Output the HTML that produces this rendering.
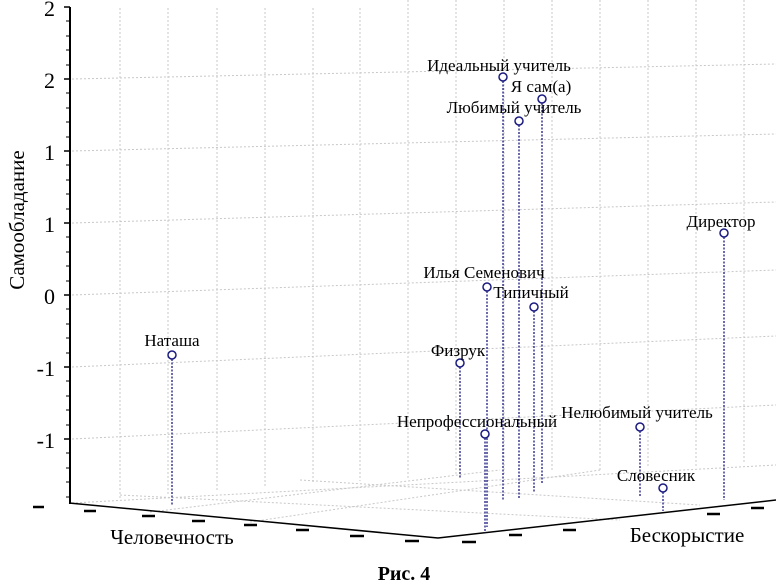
<!DOCTYPE html>
<html><head><meta charset="utf-8"><style>
html,body{margin:0;padding:0;background:#fff;}
svg{display:block;}
text{font-family:"Liberation Serif",serif;}
</style></head><body>
<svg width="776" height="586" viewBox="0 0 776 586" xmlns="http://www.w3.org/2000/svg">
<g stroke="#c8c8c8" stroke-width="1" stroke-dasharray="2,2" fill="none">
<line x1="72" y1="79" x2="776" y2="64"/>
<line x1="72" y1="151" x2="776" y2="134"/>
<line x1="72" y1="223" x2="776" y2="202"/>
<line x1="72" y1="295" x2="776" y2="270"/>
<line x1="72" y1="367" x2="776" y2="336"/>
<line x1="72" y1="439" x2="776" y2="405"/>
<line x1="120" y1="8" x2="120" y2="498"/>
<line x1="168" y1="8" x2="168" y2="494"/>
<line x1="217" y1="8" x2="217" y2="490"/>
<line x1="265" y1="8" x2="265" y2="487"/>
<line x1="313" y1="8" x2="313" y2="484"/>
<line x1="360" y1="8" x2="360" y2="481"/>
<line x1="408" y1="0" x2="408" y2="478"/>
<line x1="456" y1="0" x2="456" y2="476"/>
<line x1="504" y1="0" x2="504" y2="474"/>
<line x1="552" y1="0" x2="552" y2="472"/>
<line x1="600" y1="0" x2="600" y2="470"/>
<line x1="648" y1="0" x2="648" y2="468"/>
<line x1="696" y1="0" x2="696" y2="466"/>
<line x1="744" y1="0" x2="744" y2="464"/>
<line x1="72" y1="503" x2="776" y2="465"/>
<line x1="150" y1="512" x2="500" y2="470"/>
<line x1="250" y1="522" x2="600" y2="470"/>
<line x1="120" y1="495" x2="620" y2="520"/>
<line x1="300" y1="480" x2="700" y2="505"/>
</g>
<line x1="70" y1="7" x2="70" y2="504" stroke="#000" stroke-width="2"/>
<g stroke="#000" stroke-width="1.5">
<line x1="64" y1="7" x2="70" y2="7"/><line x1="64" y1="79" x2="70" y2="79"/><line x1="64" y1="151" x2="70" y2="151"/><line x1="64" y1="223" x2="70" y2="223"/><line x1="64" y1="295" x2="70" y2="295"/><line x1="64" y1="367" x2="70" y2="367"/><line x1="64" y1="439" x2="70" y2="439"/>
</g>
<g stroke="#000" stroke-width="1">
<line x1="66" y1="21" x2="70" y2="21"/><line x1="66" y1="36" x2="70" y2="36"/><line x1="66" y1="50" x2="70" y2="50"/><line x1="66" y1="65" x2="70" y2="65"/>
<line x1="66" y1="93" x2="70" y2="93"/><line x1="66" y1="108" x2="70" y2="108"/><line x1="66" y1="122" x2="70" y2="122"/><line x1="66" y1="137" x2="70" y2="137"/>
<line x1="66" y1="165" x2="70" y2="165"/><line x1="66" y1="180" x2="70" y2="180"/><line x1="66" y1="194" x2="70" y2="194"/><line x1="66" y1="209" x2="70" y2="209"/>
<line x1="66" y1="237" x2="70" y2="237"/><line x1="66" y1="252" x2="70" y2="252"/><line x1="66" y1="266" x2="70" y2="266"/><line x1="66" y1="281" x2="70" y2="281"/>
<line x1="66" y1="309" x2="70" y2="309"/><line x1="66" y1="324" x2="70" y2="324"/><line x1="66" y1="338" x2="70" y2="338"/><line x1="66" y1="353" x2="70" y2="353"/>
<line x1="66" y1="381" x2="70" y2="381"/><line x1="66" y1="396" x2="70" y2="396"/><line x1="66" y1="410" x2="70" y2="410"/><line x1="66" y1="425" x2="70" y2="425"/>
<line x1="66" y1="453" x2="70" y2="453"/><line x1="66" y1="468" x2="70" y2="468"/><line x1="66" y1="482" x2="70" y2="482"/><line x1="66" y1="497" x2="70" y2="497"/>
</g>
<g font-family="Liberation Sans,sans-serif" font-size="22" text-anchor="end" fill="#000">
<text x="55" y="16">2</text><text x="55" y="88">2</text><text x="55" y="160">1</text><text x="55" y="232">1</text><text x="55" y="304">0</text><text x="55" y="376">-1</text><text x="55" y="448">-1</text>
</g>
<polyline points="69,503 438,538 776,500" fill="none" stroke="#000" stroke-width="1.5"/>
<g stroke="#000" stroke-width="2.5">
<line x1="33" y1="507" x2="44" y2="507"/><line x1="84" y1="511" x2="96" y2="511"/><line x1="142" y1="516" x2="155" y2="516"/><line x1="192" y1="521" x2="205" y2="521"/><line x1="244" y1="525" x2="257" y2="525"/><line x1="296" y1="530" x2="309" y2="530"/><line x1="350" y1="536" x2="364" y2="536"/><line x1="405" y1="541" x2="419" y2="541"/><line x1="462" y1="542" x2="476" y2="542"/><line x1="509" y1="535" x2="522" y2="535"/><line x1="563" y1="530" x2="576" y2="530"/><line x1="707" y1="514" x2="720" y2="514"/><line x1="751" y1="508" x2="764" y2="508"/>
</g>
<text x="24" y="220" font-size="21" text-anchor="middle" transform="rotate(-90 24 220)">Самообладание</text>
<text x="172" y="544" font-size="21" text-anchor="middle">Человечность</text>
<text x="687" y="542" font-size="21" text-anchor="middle">Бескорыстие</text>
<text x="404" y="580" font-size="20" font-weight="bold" text-anchor="middle">Рис. 4</text>
<g stroke="#1a1a80" stroke-width="1.3" stroke-dasharray="2,1.5">
<line x1="172" y1="359" x2="172" y2="505"/>
<line x1="503" y1="81" x2="503" y2="500"/>
<line x1="542" y1="103" x2="542" y2="484"/>
<line x1="519" y1="125" x2="519" y2="498"/>
<line x1="724" y1="237" x2="724" y2="500"/>
<line x1="487" y1="291" x2="487" y2="527"/>
<line x1="534" y1="311" x2="534" y2="492"/>
<line x1="460" y1="367" x2="460" y2="478"/>
<line x1="485" y1="438" x2="485" y2="533"/>
<line x1="640" y1="431" x2="640" y2="497"/>
<line x1="663" y1="492" x2="663" y2="511"/>
</g>
<g fill="#fff" stroke="#1a1a80" stroke-width="1.5">
<circle cx="172" cy="355" r="4"/><circle cx="503" cy="77" r="4"/><circle cx="542" cy="99" r="4"/><circle cx="519" cy="121" r="4"/><circle cx="724" cy="233" r="4"/><circle cx="487" cy="287" r="4"/><circle cx="534" cy="307" r="4"/><circle cx="460" cy="363" r="4"/><circle cx="485" cy="434" r="4"/><circle cx="640" cy="427" r="4"/><circle cx="663" cy="488" r="4"/>
</g>
<g font-size="17" text-anchor="middle" fill="#000">
<text x="499" y="71">Идеальный учитель</text>
<text x="541" y="92">Я сам(а)</text>
<text x="514" y="113">Любимый учитель</text>
<text x="721" y="227">Директор</text>
<text x="484" y="278">Илья Семенович</text>
<text x="531" y="298">Типичный</text>
<text x="172" y="346">Наташа</text>
<text x="458" y="356">Физрук</text>
<text x="477" y="427">Непрофессиональный</text>
<text x="637" y="418">Нелюбимый учитель</text>
<text x="656" y="481">Словесник</text>
</g>
</svg>
</body></html>
